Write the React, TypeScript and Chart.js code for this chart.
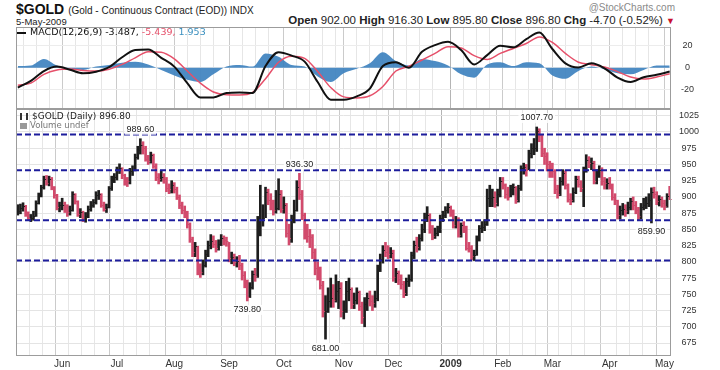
import React, { useEffect, useRef } from 'react';
import { Chart, registerables } from 'chart.js';

Chart.register(...registerables);

const FONT = '"Liberation Sans", Arial, sans-serif';
const VFONT = '"DejaVu Sans", Verdana, sans-serif';

// ---- Daily OHLC (7-May-2008 .. 5-May-2009), trading-day index 0..250 ----
const closes = [
  878,883,886,874,868,868,871,891,903,915,928,922,928,915,903,884,887,
  888,884,877,880,905,893,873,877,864,871,882,888,892,903,904,887,882,884,914,928,930,
  943,945,933,925,924,940,942,962,972,980,975,958,956,964,948,930,927,930,928,914,912,918,
  912,900,887,880,876,858,835,815,825,788,785,795,812,826,832,828,822,828,836,833,832,
  806,808,800,802,795,780,770,746,762,782,778,855,865,868,908,895,890,880,883,905,882,
  887,845,836,866,880,915,905,872,845,840,838,815,790,785,765,725,725,740,745,742,755,760,725,
  728,755,758,735,742,754,732,715,735,745,740,737,745,790,805,818,815,812,814,
  776,783,774,766,752,770,773,810,826,823,837,850,869,872,850,840,845,848,868,872,880,884,
  878,857,865,842,856,853,822,821,809,810,837,852,853,858,898,898,900,890,905,925,
  918,905,900,912,915,896,914,944,946,941,967,975,975,1002,995,968,963,950,942,
  940,912,905,925,937,918,897,896,908,928,920,914,942,957,952,953,925,938,942,924,921,922,
  918,900,895,872,880,882,878,885,893,887,880,870,885,888,890,896,908,905,893,897,890,886,901.5,896.8,
];
const highs = [
  888,889,891,887,877,873,878,894,906,918,932,933,932,930,916,904,892,
  898,892,888,886,908,905,894,882,878,876,886,893,896,908,910,905,892,889,916,932,936,
  946,951,945,935,930,944,948,966,978,989.6,985,978,964,969,966,951,936,941,936,930,920,925,
  922,915,903,892,886,878,860,838,830,824,797,803,818,832,842,840,833,834,842,840,838,
  830,815,812,808,810,798,785,772,768,786,790,870,918,888,915,912,905,895,910,928,910,
  900,890,858,872,895,925,936.3,910,875,858,850,842,820,800,792,770,748,760,775,765,780,770,768,
  740,770,775,760,752,760,755,738,745,752,755,748,755,795,812,825,830,825,822,
  818,790,786,780,770,775,780,815,832,838,842,858,875,885,874,856,852,855,872,878,885,890,
  886,880,870,868,860,862,855,830,825,818,840,856,862,865,912,918,912,908,912,930,
  930,920,915,918,920,916,918,948,952,950,972,982,990,1007.7,1005,995,975,968,955,
  952,942,918,930,942,940,920,905,914,932,932,925,946,965,962,960,955,942,948,945,930,928,
  930,920,905,895,886,890,888,892,898,900,893,884,890,898,900,905,914,915,908,902,900,895,905,916.3,
];
const lows = [
  872,874,878,870,865,862,864,870,889,900,912,918,917,911,898,880,877,
  880,876,870,872,878,889,870,868,862,861,868,878,884,889,896,884,878,876,883,910,922,
  926,936,928,918,916,920,933,940,958,966,966,955,950,952,944,925,920,924,921,908,905,906,
  906,896,882,874,868,852,830,808,808,780,776,780,792,808,820,822,815,818,825,826,824,
  800,797,794,792,788,772,760,739.8,745,758,770,776,840,855,868,888,880,872,875,880,876,
  875,838,826,830,860,878,896,865,835,830,822,805,780,772,758,715,681,722,730,730,738,728,715,
  712,722,740,728,728,735,725,705,700,725,732,725,730,740,785,798,808,805,806,
  770,768,765,758,745,748,762,770,805,815,818,832,845,862,844,834,836,840,845,862,868,875,
  870,852,852,838,838,845,818,815,803,802,810,832,845,848,856,885,885,884,886,900,
  912,898,895,900,903,890,892,910,935,932,942,960,965,970,985,962,950,940,930,
  930,905,898,902,918,912,892,888,892,905,915,908,885,938,945,942,920,920,930,918,912,912,
  912,895,888,866,866,872,870,874,880,880,874,865,866,880,882,885,859.9,898,888,886,884,880,884,895.8,
];

// month label positions (trading-day index of first session of each month)
const monthTickIdx = [17, 38, 60, 81, 102, 125, 144, 166, 186, 205, 227, 248];
const monthTickLabels = ['Jun', 'Jul', 'Aug', 'Sep', 'Oct', 'Nov', 'Dec', '2009', 'Feb', 'Mar', 'Apr', 'May'];
const priceTicks = [675, 700, 725, 750, 775, 800, 825, 850, 875, 900, 925, 950, 975, 1000, 1025];
const macdTicks = [-20, 0, 20];

// horizontal trend lines drawn on the chart
const trendLevels = [996, 941, 864, 802];
// annotated swing highs / lows (trading-day index)
const highLabelIdx = [47, 108, 199];
const lowLabelIdx = [88, 118, 243];

// MACD(12,26,9) sampled every 5 sessions
const macdLine = [
  -18, -12, -3, 1, -1.8, -5, -3.6, 0.5, 9.5, 16, 16.5, 9, 1, -14, -27, -27, -23, -22.4, -23, 1.5, 14,
  11, 5.5, -13, -29, -29, -26, -19, 1.5, 5, 0, 14.5, 20.5, 23.5, 16, 3, 11.5, 20, 18.5, 26, 32,
  17, 4, 0.3, 4, -0.5, -9, -13, -8.7, -6.4, -3.5,
];
const signalLine = [
  -16, -14, -6, -2, -1.2, -2.5, -3, -1.3, 3, 9, 14.5, 14, 8, -3, -14, -22, -24.5, -24.7, -22.5, -10, 5,
  10.5, 8.5, -3.5, -18, -26.5, -27.5, -25.5, -17, -3, 1.3, 7, 13, 19, 18, 11, 7.5, 13, 17.5, 22, 28,
  23, 13, 5, 2.8, 0.6, -3.5, -8.5, -10.3, -8.5, -5.4,
];
const macdHist = [
  1.5, 2, 8, 2, -1, -2, 1, 2.5, 4.5, 5.5, 3, -2, -7, -11, -13, -6, 1, 2.5, 1, 13, 10,
  2.5, 1, -8, -13, -5, -1, 4, 14, 6, 2, 8, 6, 2, -6, -9, 3, 5, 1.5, 5, 4,
  -7, -10, -3, 1, -1.5, -5, -6, -2, 2, 2,
];
const MACD_STEP = 5;

const LAST = closes.length - 1;
const X_MIN = -0.7;
const X_MAX = LAST + 0.5;

const upColor = '#1e1e1e';
const downColor = '#d24a6c';
const colorOf = (i: number) => (i === 0 || closes[i] >= closes[i - 1] ? upColor : downColor);

// vertical grid positions: month starts plus roughly weekly lines
const gridVals: number[] = [];
for (let v = monthTickIdx[0] - 5; v >= 0; v -= 5) gridVals.push(v);
monthTickIdx.forEach((m, k) => {
  gridVals.push(m);
  const next = k + 1 < monthTickIdx.length ? monthTickIdx[k + 1] : LAST + 1;
  for (let v = m + 5; v < next - 2; v += 5) gridVals.push(v);
});
gridVals.sort((a, b) => a - b);

const gridColor = (c: any) => {
  const v = c.tick ? c.tick.value : -1;
  if (v === 166) return '#b4b4b4';
  return monthTickIdx.includes(v) ? '#cbcbcb' : '#e6e6e6';
};

const borderPlugin = {
  id: 'panelBorder',
  afterDraw(chart: any) {
    const { ctx, chartArea: a } = chart;
    ctx.save();
    ctx.strokeStyle = '#9c9c9c';
    ctx.lineWidth = 1;
    ctx.strokeRect(Math.round(a.left) + 0.5, Math.round(a.top) + 0.5, Math.round(a.right - a.left) - 1, Math.round(a.bottom - a.top) - 1);
    ctx.restore();
  },
};

const priceOverlay = {
  id: 'priceOverlay',
  afterDatasetsDraw(chart: any) {
    const { ctx, chartArea: a, scales } = chart;
    const x = scales.x;
    const y = scales.y;
    ctx.save();
    ctx.lineWidth = 1;
    closes.forEach((c, i) => {
      const px = x.getPixelForValue(i);
      const py = Math.round(y.getPixelForValue(c)) + 0.5;
      ctx.strokeStyle = colorOf(i);
      ctx.beginPath();
      ctx.moveTo(px, py);
      ctx.lineTo(px + 2, py);
      ctx.stroke();
    });
    ctx.setLineDash([6, 3]);
    ctx.lineWidth = 2;
    ctx.strokeStyle = '#1d1d9c';
    trendLevels.forEach((v) => {
      const py = y.getPixelForValue(v);
      ctx.beginPath();
      ctx.moveTo(a.left, py);
      ctx.lineTo(a.right, py);
      ctx.stroke();
    });
    ctx.setLineDash([]);
    ctx.font = `9px ${FONT}`;
    ctx.textAlign = 'center';
    ctx.textBaseline = 'middle';
    const label = (i: number, v: number, dy: number) => {
      const px = x.getPixelForValue(i);
      const py = y.getPixelForValue(v) + dy;
      const t = v.toFixed(2);
      const w = ctx.measureText(t).width;
      ctx.fillStyle = 'rgba(255,255,255,0.85)';
      ctx.fillRect(px - w / 2 - 2, py - 5, w + 4, 10);
      ctx.fillStyle = '#222';
      ctx.fillText(t, px, py);
    };
    highLabelIdx.forEach((i) => label(i, highs[i], -9));
    lowLabelIdx.forEach((i) => label(i, lows[i], 9));
    ctx.restore();
  },
};

const common: any = {
  responsive: false,
  maintainAspectRatio: false,
  animation: false,
  events: [],
  plugins: { legend: { display: false }, tooltip: { enabled: false } },
};

export default function App() {
  const macdRef = useRef<HTMLCanvasElement | null>(null);
  const priceRef = useRef<HTMLCanvasElement | null>(null);

  useEffect(() => {
    const xBase = {
      type: 'linear',
      min: X_MIN,
      max: X_MAX,
      offset: false,
      border: { display: false },
      grid: { color: gridColor, drawTicks: false, lineWidth: 1 },
      afterBuildTicks: (s: any) => {
        s.ticks = gridVals.map((v) => ({ value: v }));
      },
    };

    const macdChart = new Chart(macdRef.current as HTMLCanvasElement, {
      type: 'line',
      data: {
        datasets: [
          {
            data: macdLine.map((v, k) => ({ x: k * MACD_STEP, y: v })),
            borderColor: '#111',
            borderWidth: 2,
            pointRadius: 0,
            cubicInterpolationMode: 'monotone',
            order: 0,
          },
          {
            data: signalLine.map((v, k) => ({ x: k * MACD_STEP, y: v })),
            borderColor: '#e6506a',
            borderWidth: 1.5,
            pointRadius: 0,
            cubicInterpolationMode: 'monotone',
            order: 1,
          },
          {
            data: macdHist.map((v, k) => ({ x: k * MACD_STEP, y: v })),
            borderColor: 'transparent',
            borderWidth: 0,
            backgroundColor: 'rgba(58,128,190,0.9)',
            fill: 'origin',
            pointRadius: 0,
            cubicInterpolationMode: 'monotone',
            order: 2,
          },
        ],
      } as any,
      options: {
        ...common,
        layout: { padding: { left: 16, right: 0, top: 0, bottom: 0 } },
        scales: {
          x: {
            ...xBase,
            ticks: { display: false },
            afterFit: (s: any) => {
              s.height = 0;
              s.paddingLeft = 0;
              s.paddingRight = 0;
            },
          },
          y: {
            position: 'right',
            min: -37.5,
            max: 37,
            border: { display: false },
            grid: { color: '#ececec', drawTicks: false },
            ticks: {
              padding: 10,
              crossAlign: 'center',
              font: { family: FONT, size: 9 },
              color: '#333',
              callback: (v: any) => String(v),
            },
            afterBuildTicks: (s: any) => {
              s.ticks = macdTicks.map((v) => ({ value: v }));
            },
            afterFit: (s: any) => {
              s.width = 49;
              s.paddingTop = 0;
              s.paddingBottom = 0;
            },
          },
        },
      } as any,
      plugins: [borderPlugin],
    });

    const priceChart = new Chart(priceRef.current as HTMLCanvasElement, {
      type: 'bar',
      data: {
        datasets: [
          {
            data: closes.map((_, i) => ({ x: i, y: [lows[i], highs[i]] })),
            backgroundColor: closes.map((_, i) => colorOf(i)),
            borderWidth: 0,
            barThickness: 2,
            grouped: false,
          },
        ],
      } as any,
      options: {
        ...common,
        layout: { padding: { left: 16, right: 0, top: 0, bottom: 0 } },
        scales: {
          x: {
            ...xBase,
            ticks: {
              autoSkip: false,
              maxRotation: 0,
              padding: 2,
              color: '#333',
              font: (c: any) => ({
                family: FONT,
                size: 10,
                weight: c.tick && c.tick.value === 166 ? 'bold' : 'normal',
              }),
              callback: (v: any) => {
                const k = monthTickIdx.indexOf(v);
                return k >= 0 ? monthTickLabels[k] : '';
              },
            },
            afterFit: (s: any) => {
              s.height = 14;
              s.paddingLeft = 0;
              s.paddingRight = 0;
            },
          },
          y: {
            position: 'right',
            min: 655,
            max: 1035.4,
            border: { display: false },
            grid: { color: '#e4e4e4', drawTicks: false },
            ticks: {
              padding: 8,
              crossAlign: 'center',
              font: { family: FONT, size: 9 },
              color: '#333',
              callback: (v: any) => String(v),
            },
            afterBuildTicks: (s: any) => {
              s.ticks = priceTicks.map((v) => ({ value: v }));
            },
            afterFit: (s: any) => {
              s.width = 49;
              s.paddingTop = 0;
              s.paddingBottom = 0;
            },
          },
        },
      } as any,
      plugins: [borderPlugin, priceOverlay],
    });

    return () => {
      macdChart.destroy();
      priceChart.destroy();
    };
  }, []);

  return (
    <div style={{ position: 'absolute', left: 0, top: 0, width: 720, height: 370, background: '#fff', overflow: 'hidden' }}>
      <div style={{ position: 'absolute', left: 16, top: 1, font: `bold 14px ${FONT}`, color: '#111', whiteSpace: 'nowrap' }}>
        $GOLD <span style={{ font: `10px ${FONT}`, color: '#222' }}>(Gold - Continuous Contract (EOD)) INDX</span>
      </div>
      <div style={{ position: 'absolute', right: 45, top: 2, font: `10px ${FONT}`, color: '#8a8a8a', whiteSpace: 'nowrap' }}>
        @StockCharts.com
      </div>
      <div style={{ position: 'absolute', left: 16, top: 16, font: `9.5px ${FONT}`, color: '#222', whiteSpace: 'nowrap' }}>
        5-May-2009
      </div>
      <div style={{ position: 'absolute', right: 45, top: 14, font: `11.5px ${FONT}`, color: '#222', whiteSpace: 'nowrap' }}>
        <b>Open</b> 902.00 <b>High</b> 916.30 <b>Low</b> 895.80 <b>Close</b> 896.80 <b>Chg</b> -4.70 (-0.52%){' '}
        <span style={{ color: '#c8102e', fontSize: 9 }}>▼</span>
      </div>

      <canvas ref={macdRef} width={720} height={82} style={{ position: 'absolute', left: 0, top: 27, width: 720, height: 82 }} />
      <div style={{ position: 'absolute', left: 17, top: 26, font: `9.5px ${VFONT}`, lineHeight: '12px', color: '#111', whiteSpace: 'nowrap' }}>
        <span style={{ display: 'inline-block', width: 9, height: 2, background: '#111', verticalAlign: 'middle', marginRight: 4 }} />
        MACD(12,26,9) -3.487, <span style={{ color: '#e6506a' }}>-5.439, </span>
        <span style={{ color: '#3a8fbf' }}>1.953</span>
      </div>

      <canvas ref={priceRef} width={720} height={261} style={{ position: 'absolute', left: 0, top: 109, width: 720, height: 261 }} />
      <div style={{ position: 'absolute', left: 20, top: 111, font: `9px ${VFONT}`, lineHeight: '11px', color: '#222', whiteSpace: 'nowrap' }}>
        <span style={{ display: 'inline-block', width: 8, height: 7, borderLeft: '2px solid #333', borderRight: '2px solid #333', boxSizing: 'border-box', marginRight: 4, verticalAlign: 'middle' }} />
        $GOLD (Daily) 896.80
      </div>
      <div style={{ position: 'absolute', left: 20, top: 120, font: `8.5px ${VFONT}`, lineHeight: '11px', color: '#777', whiteSpace: 'nowrap' }}>
        <span style={{ display: 'inline-block', width: 7, height: 6, background: '#999', marginRight: 3, verticalAlign: 'middle' }} />
        Volume undef
      </div>
    </div>
  );
}
